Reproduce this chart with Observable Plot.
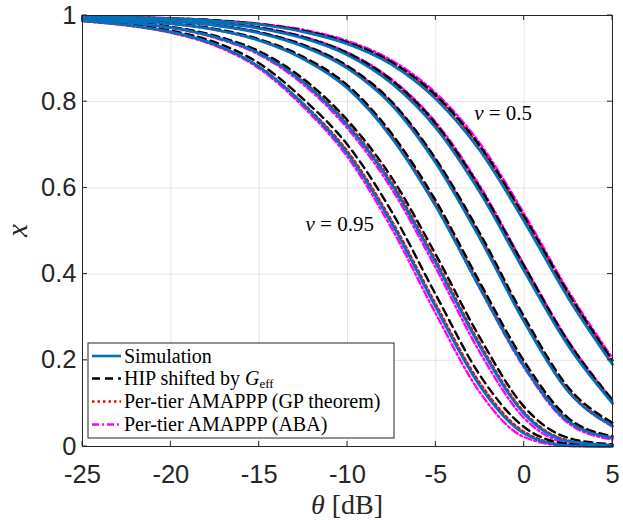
<!DOCTYPE html>
<html><head><meta charset="utf-8">
<script src="https://cdn.jsdelivr.net/npm/d3@7"></script>
<script src="https://cdn.jsdelivr.net/npm/@observablehq/plot@0.6"></script>
<style>body{margin:0;background:#fff;}</style>
</head><body><div id="chart"></div>
<script>
// θ grid in dB
const theta = [-25,-22.5,-20,-17.5,-15,-12.5,-10,-7.5,-5,-2.5,0,2.5,5];
// six families, from v = 0.95 (left) to v = 0.5 (right)
const simulation = [
  [0.988,0.978,0.962,0.933,0.881,0.794,0.680,0.518,0.323,0.140,0.030,0.002,0.000],
  [0.991,0.984,0.972,0.950,0.912,0.845,0.745,0.608,0.426,0.232,0.076,0.012,0.003],
  [0.994,0.989,0.981,0.967,0.942,0.899,0.831,0.716,0.557,0.367,0.186,0.058,0.020],
  [0.996,0.993,0.987,0.977,0.959,0.928,0.877,0.792,0.657,0.482,0.289,0.127,0.048],
  [0.997,0.995,0.990,0.983,0.970,0.947,0.908,0.842,0.739,0.589,0.407,0.233,0.100],
  [0.998,0.996,0.993,0.988,0.979,0.962,0.934,0.886,0.806,0.686,0.522,0.344,0.190]
];
const hipShifted = [
  [0.989,0.980,0.965,0.938,0.889,0.806,0.700,0.545,0.352,0.165,0.045,0.006,0.001],
  [0.992,0.985,0.974,0.953,0.917,0.853,0.757,0.624,0.445,0.252,0.092,0.020,0.005],
  [0.994,0.990,0.982,0.969,0.945,0.904,0.838,0.726,0.570,0.380,0.198,0.066,0.024],
  [0.996,0.993,0.988,0.978,0.961,0.932,0.883,0.800,0.667,0.494,0.301,0.137,0.055],
  [0.997,0.995,0.991,0.984,0.972,0.950,0.913,0.850,0.749,0.600,0.419,0.243,0.108],
  [0.998,0.996,0.993,0.989,0.980,0.965,0.938,0.892,0.815,0.697,0.534,0.356,0.200]
];
const gpTheorem = [
  [0.987,0.977,0.961,0.932,0.881,0.796,0.685,0.524,0.330,0.147,0.034,0.003,0.000],
  [0.991,0.984,0.972,0.950,0.913,0.847,0.749,0.613,0.432,0.238,0.080,0.014,0.003],
  [0.994,0.989,0.981,0.967,0.943,0.901,0.834,0.721,0.563,0.373,0.190,0.061,0.021],
  [0.996,0.993,0.987,0.977,0.960,0.930,0.880,0.796,0.662,0.488,0.294,0.131,0.050],
  [0.997,0.995,0.991,0.983,0.971,0.949,0.911,0.846,0.744,0.595,0.413,0.238,0.104],
  [0.998,0.996,0.993,0.988,0.980,0.964,0.937,0.890,0.812,0.694,0.531,0.353,0.197]
];
const aba = [
  [0.987,0.977,0.960,0.930,0.877,0.788,0.672,0.506,0.308,0.125,0.022,0.001,0.000],
  [0.990,0.983,0.971,0.948,0.909,0.840,0.738,0.598,0.414,0.218,0.066,0.008,0.001],
  [0.994,0.989,0.981,0.967,0.942,0.900,0.832,0.718,0.558,0.366,0.183,0.054,0.016],
  [0.996,0.993,0.988,0.978,0.961,0.931,0.881,0.798,0.664,0.489,0.294,0.128,0.046],
  [0.997,0.995,0.991,0.984,0.972,0.951,0.914,0.852,0.752,0.604,0.421,0.245,0.107],
  [0.998,0.996,0.994,0.989,0.981,0.967,0.941,0.896,0.820,0.703,0.540,0.361,0.205]
];
const xTicks = [-25,-20,-15,-10,-5,0,5];
const xTickLabels = ["-25","-20","-15","-10","-5","0","5"];
const yTicks = [0,0.2,0.4,0.6,0.8,1];
const yTickLabels = ["0","0.2","0.4","0.6","0.8","1"];
const legendLabels = ["Simulation","HIP shifted by G_eff","Per-tier AMAPPP (GP theorem)","Per-tier AMAPPP (ABA)"];

function toRows(arr){
  const rows = [];
  arr.forEach((vals,f)=>vals.forEach((v,i)=>rows.push({theta:theta[i], x:v, family:f})));
  return rows;
}
const styles = {
  sim: {stroke:"#0072bd", strokeWidth:2.6},
  hip: {stroke:"#000000", strokeWidth:2.4, strokeDasharray:"8,5"},
  gp:  {stroke:"#ff0000", strokeWidth:2.4, strokeDasharray:"2.5,3"},
  aba: {stroke:"#ff00ff", strokeWidth:2.4, strokeDasharray:"7,3,2,3"}
};
const lineOpts = {x:"theta", y:"x", z:"family", curve:"monotone-x"};

const plot = Plot.plot({
  width: 623, height: 520,
  marginLeft: 82, marginRight: 11, marginTop: 15, marginBottom: 74,
  style: {fontSize:"25.5px", fontFamily:"'Liberation Sans', Arial, sans-serif", color:"#262626", background:"#fff"},
  x: {domain:[-25,5]},
  y: {domain:[0,1]},
  marks: [
    Plot.gridX(xTicks, {stroke:"#e3e3e3", strokeOpacity:1}),
    Plot.gridY(yTicks, {stroke:"#e3e3e3", strokeOpacity:1}),
    Plot.line(toRows(aba), {...lineOpts, ...styles.aba}),
    Plot.line(toRows(gpTheorem), {...lineOpts, ...styles.gp}),
    Plot.line(toRows(hipShifted), {...lineOpts, ...styles.hip}),
    Plot.line(toRows(simulation), {...lineOpts, ...styles.sim}),
    Plot.frame({stroke:"#262626", strokeWidth:1}),
    Plot.axisX(xTicks, {tickSize:0, tickPadding:18, label:null, tickFormat:(d,i)=>xTickLabels[i], fill:"#262626"}),
    Plot.axisY(yTicks, {tickSize:0, tickPadding:6, label:null, tickFormat:(d,i)=>yTickLabels[i], fill:"#262626"})
  ]
});
document.getElementById("chart").appendChild(plot);

const sx = plot.scale("x"), sy = plot.scale("y");
const svg = d3.select(plot);
const x0 = sx.apply(-25), x1 = sx.apply(5), y0 = sy.apply(0), y1 = sy.apply(1);
const tk = 5;
const tg = svg.append("g").attr("stroke","#262626").attr("stroke-width",1);
xTicks.forEach(t=>{
  const px = sx.apply(t);
  tg.append("line").attr("x1",px).attr("x2",px).attr("y1",y0).attr("y2",y0-tk);
  tg.append("line").attr("x1",px).attr("x2",px).attr("y1",y1).attr("y2",y1+tk);
});
yTicks.forEach(t=>{
  const py = sy.apply(t);
  tg.append("line").attr("x1",x0).attr("x2",x0+tk).attr("y1",py).attr("y2",py);
  tg.append("line").attr("x1",x1).attr("x2",x1-tk).attr("y1",py).attr("y2",py);
});

const serif = "'Liberation Serif', 'Times New Roman', serif";
// axis labels
svg.append("text").attr("x",(x0+x1)/2).attr("y",514).attr("text-anchor","middle")
  .attr("font-family",serif).attr("font-size",28).attr("fill","#262626")
  .call(t=>{t.append("tspan").attr("font-style","italic").text("θ");t.append("tspan").text(" [dB]");});
svg.append("text").attr("transform",`translate(27,${(y0+y1)/2}) rotate(-90)`).attr("text-anchor","middle")
  .attr("font-family",serif).attr("font-size",29).attr("font-style","italic").attr("fill","#262626").text("x");

// annotations
function annot(th, val, num){
  const t = svg.append("text").attr("x",sx.apply(th)).attr("y",sy.apply(val)).attr("dy","0.35em")
    .attr("text-anchor","start").attr("font-family",serif).attr("font-size",21).attr("fill","#000");
  t.append("tspan").attr("font-style","italic").text("v");
  t.append("tspan").text(" = " + num);
}
annot(-2.8, 0.773, "0.5");
annot(-12.35, 0.517, "0.95");

// legend
const lg = svg.append("g");
lg.append("rect").attr("x",88).attr("y",343).attr("width",306).attr("height",95)
  .attr("fill","#fff").attr("stroke","#262626").attr("stroke-width",1);
const keys = ["sim","hip","gp","aba"];
const rowsY = [356,378.5,401.5,424.5];
keys.forEach((k,i)=>{
  const s = styles[k];
  const ln = lg.append("line").attr("x1",92).attr("x2",121).attr("y1",rowsY[i]).attr("y2",rowsY[i])
    .attr("stroke",s.stroke).attr("stroke-width",s.strokeWidth);
  if (s.strokeDasharray) ln.attr("stroke-dasharray",s.strokeDasharray);
  const t = lg.append("text").attr("x",124).attr("y",rowsY[i]).attr("dy","0.33em")
    .attr("text-anchor","start").attr("font-family",serif).attr("font-size",20).attr("fill","#000");
  if (k==="hip") {
    t.append("tspan").text("HIP shifted by ");
    t.append("tspan").attr("font-style","italic").text("G");
    t.append("tspan").attr("font-size",13).attr("dy","3").text("eff");
  } else {
    t.text(legendLabels[i]);
  }
});
</script>
</body></html>
